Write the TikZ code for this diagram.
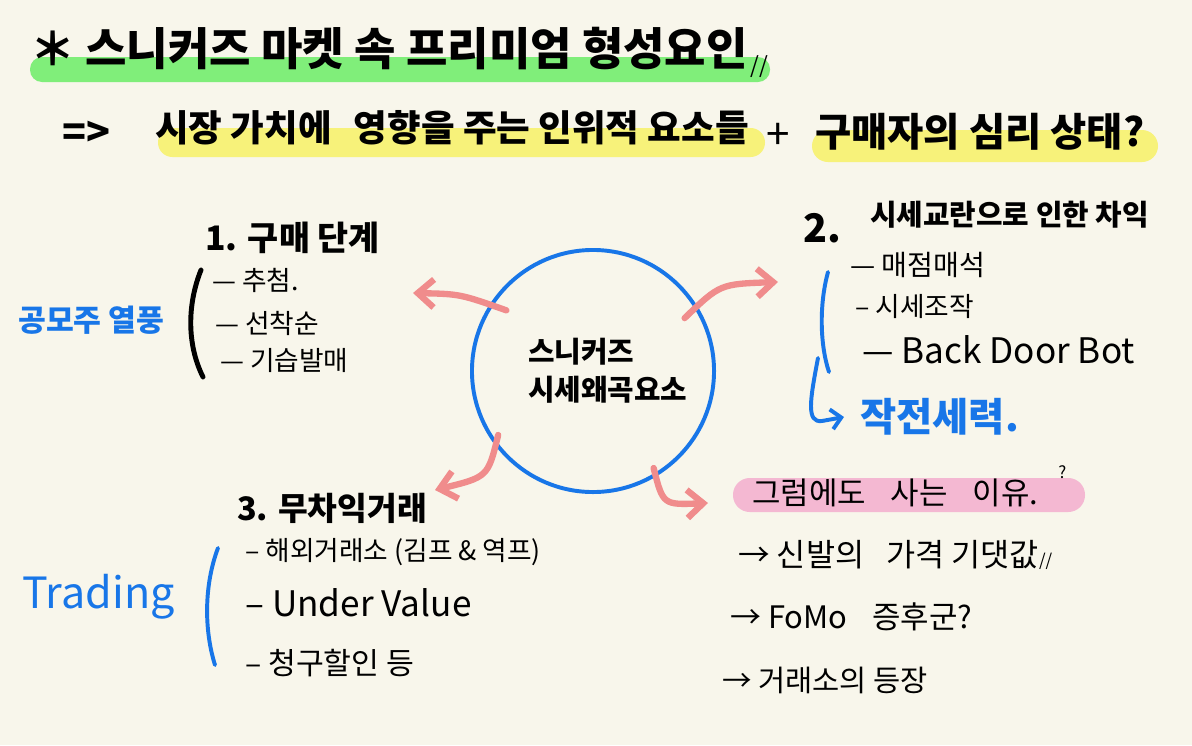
\documentclass[tikz,border=0pt]{standalone}
\usepackage{fontspec}
\setmainfont{Noto Sans CJK KR}
\usetikzlibrary{arrows.meta, calc, positioning}
\definecolor{paper}{RGB}{248,246,235}
\definecolor{hlgreen}{RGB}{128,238,122}
\definecolor{hlyellow}{RGB}{247,242,122}
\definecolor{hlpink}{RGB}{244,184,210}
\definecolor{salmon}{RGB}{240,140,140}
\definecolor{inkblue}{RGB}{24,118,232}
\newcommand{\inksize}[1]{\fontsize{#1pt}{#1pt}\selectfont}

\begin{document}
\begin{tikzpicture}[x=0.025cm, y=-0.025cm,
    ink/.style={text=black, inner sep=0pt, anchor=west},
    bluetext/.style={text=inkblue, inner sep=0pt, anchor=west},
    pinkarrow/.style={draw=salmon, line width=4.5pt, line cap=round,
        -{Straight Barb[length=4mm, width=7mm]}},
    inkbracket/.style={line width=3.5pt, line cap=round},
    bluebracket/.style={draw=inkblue, line width=2.8pt, line cap=round}]
    % Kertas
    \fill[paper] (0,0) rectangle (1192,745);
    \useasboundingbox (0,0) rectangle (1192,745);

    % Judul
    \fill[hlgreen, rounded corners=0.3cm] (30,57) rectangle (770,82);
    \node[ink, font=\bfseries\inksize{32}] (title) at (30,49) {＊ 스니커즈 마켓 속 프리미엄 형성요인};
    \node[ink, font=\inksize{16}] (titlemark) at ($(title.east)+(2,18)$) {//};

    % Baris kedua
    \fill[hlyellow, rounded corners=0.36cm] (158,128) rectangle (765,157);
    \fill[hlyellow, rounded corners=0.4cm] (812,130) rectangle (1158,162);
    \node[ink, font=\bfseries\inksize{28}] (implies) at (62,134) {=>};
    \node[ink, font=\bfseries\inksize{26}] (valuetext) at (155,128) {시장 가치에\hspace{0.6em}영향을 주는 인위적 요소들};
    \node[ink, font=\inksize{30}] (plus) at (766,136) {+};
    \node[ink, font=\bfseries\inksize{28}] (buyertext) at (815,132) {구매자의 심리 상태?};

    % Lingkaran tengah
    \node[circle, draw=inkblue, line width=2.8pt, minimum size=6.05cm, inner sep=0pt] (hub) at (593,371) {};
    \node[ink, font=\fontsize{20.5pt}{27pt}\selectfont\bfseries, align=left] (hubtext) at (528,371) {스니커즈\\시세왜곡요소};

    % Panah merah muda
    \coordinate (tipnw) at (413,293);
    \coordinate (tipne) at (778,282);
    \coordinate (tipsw) at (435,490);
    \coordinate (tipse) at (708,503);
    \draw[pinkarrow] ($(hub.center)!0.86!(hub.145)$) .. controls (460,294) .. (tipnw);
    \draw[pinkarrow] ($(hub.center)!0.86!(hub.30)$) .. controls (720,284) .. (tipne);
    \draw[pinkarrow] ($(hub.center)!0.93!(hub.214)$) .. controls (488,477) .. (tipsw);
    \draw[pinkarrow] ($(hub.center)!0.93!(hub.302)$) .. controls (663,505) .. (tipse);

    % 1. Tahap pembelian
    \node[ink, font=\bfseries\inksize{24}] (head1) at (205,238) {1. 구매 단계};
    \node[ink, font=\inksize{19}] (raffle) at (212,280) {— 추첨.};
    \node[ink, font=\inksize{19}] (firstcome) at (215,323) {— 선착순};
    \node[ink, font=\inksize{19}] (surprise) at (220,360) {— 기습발매};
    \draw[inkbracket] (201,270) .. controls (187,305) and (187,345) .. (203,377);
    \node[bluetext, font=\bfseries\inksize{21.5}] (ipo) at (18,320) {공모주 열풍};

    % 2. Selisih harga
    \node[ink, font=\bfseries\inksize{28}] (num2) at (803,228) {2.};
    \node[ink, font=\bfseries\inksize{20.5}] (head2) at (870,215) {시세교란으로 인한 차익};
    \node[ink, font=\inksize{20}] (hoard) at (850,265) {— 매점매석};
    \node[ink, font=\inksize{19}] (rigging) at (855,307) {– 시세조작};
    \node[ink, font=\inksize{25}] (backdoor) at (862,350) {— Back Door Bot};
    \draw[bluebracket] (828,272) .. controls (819,305) and (820,345) .. (829,372);
    \node[bluetext, font=\bfseries\inksize{28}] (force) at (860,417) {작전세력.};
    \coordinate (hookstart) at (818,358);
    \draw[bluebracket, -{Straight Barb[length=2.5mm, width=5mm]}] (hookstart) .. controls (810,400) and (806,423) .. (822,421) -- ($(force.west)+(-16,0)$);

    % 3. Arbitrase
    \node[ink, font=\bfseries\inksize{23}] (head3) at (237,508) {3. 무차익거래};
    \node[ink, font=\inksize{19}] (overseas) at (245,552) {– 해외거래소 (김프 \& 역프)};
    \node[ink, font=\inksize{25}] (undervalue) at (245,603) {– Under Value};
    \node[ink, font=\inksize{21.5}] (discount) at (245,663) {– 청구할인 등};
    \draw[bluebracket] (218,548) .. controls (204,585) and (204,630) .. (215,665);
    \node[bluetext, font=\inksize{30.6}] (trading) at (22,597) {Trading};

    % Alasan tetap membeli
    \fill[hlpink, rounded corners=0.42cm] (733,478) rectangle (1085,512);
    \node[ink, font=\inksize{22}] (why) at (752,493) {그럼에도\hspace{0.8em}사는\hspace{0.8em}이유.};
    \node[ink, font=\inksize{12}] (whymark) at (1058,472) {?};
    \node[ink, font=\inksize{22.5}] (expect) at (738,555) {→ 신발의\hspace{0.7em}가격 기댓값{\inksize{12}//}};
    \node[ink, font=\inksize{22}] (fomo) at (730,617) {→ FoMo\hspace{0.8em}증후군?};
    \node[ink, font=\inksize{21}] (exchange) at (722,680) {→ 거래소의 등장};
\end{tikzpicture}
\end{document}
